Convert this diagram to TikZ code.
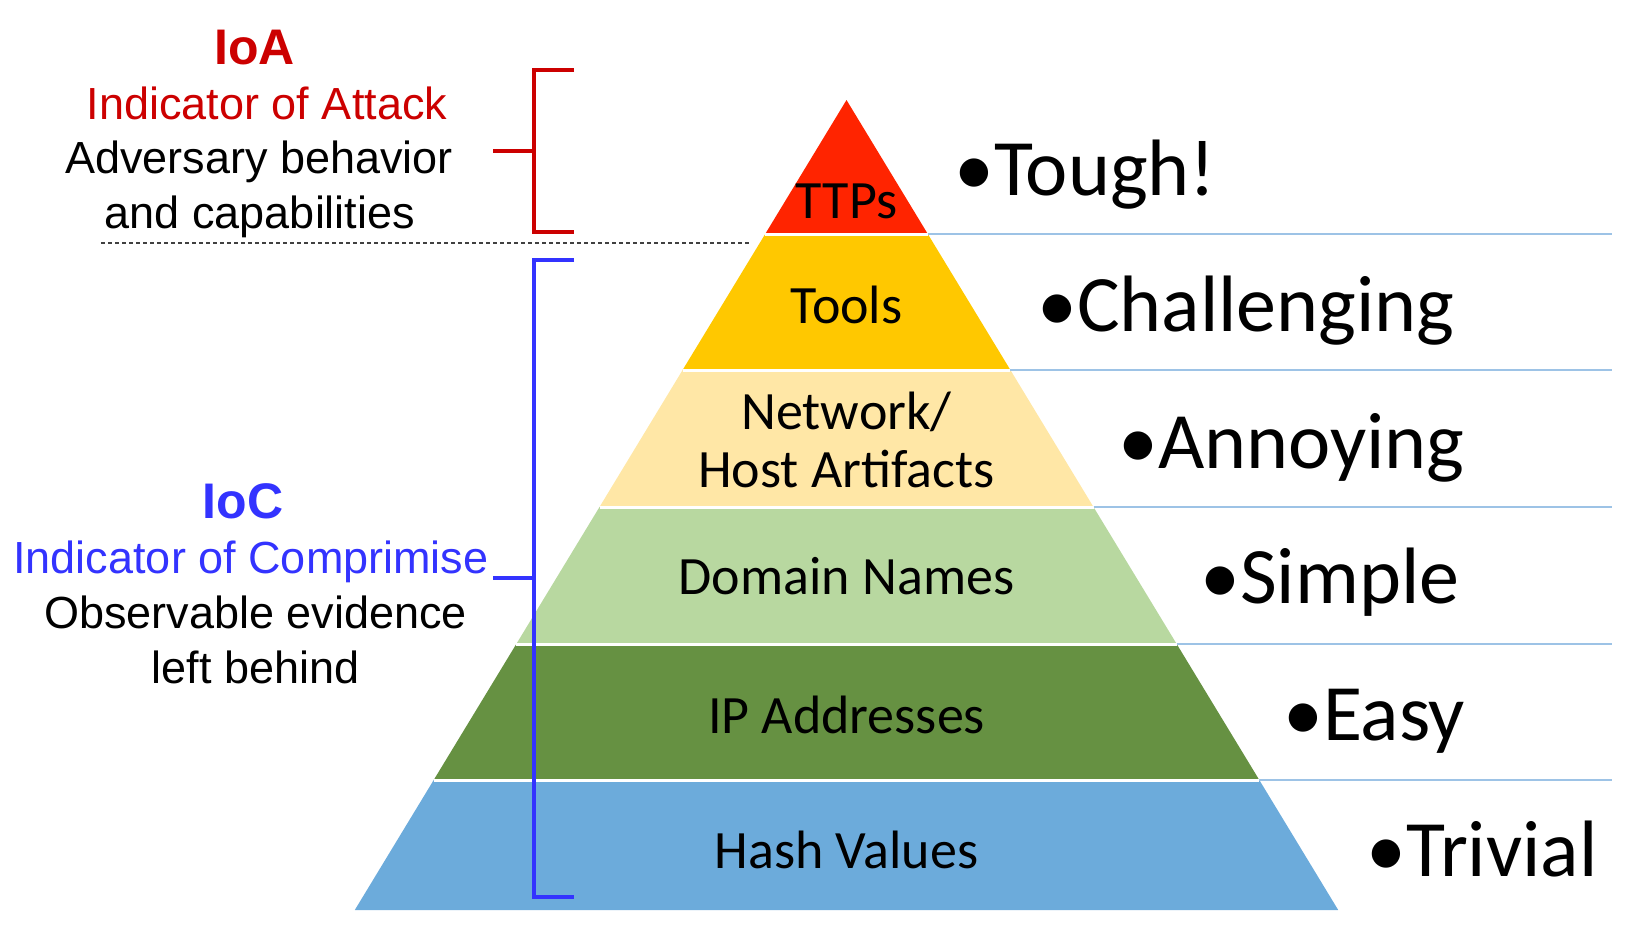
\documentclass[tikz,border=0pt]{standalone}
\usepackage{fontspec}
\setmainfont{Carlito}
\newfontfamily\arialf{Liberation Sans}
\definecolor{cttp}{HTML}{FF2400}
\definecolor{ctools}{HTML}{FFC800}
\definecolor{cnet}{HTML}{FFE7A6}
\definecolor{cdom}{HTML}{B8D8A0}
\definecolor{cip}{HTML}{669142}
\definecolor{chash}{HTML}{6CABDB}
\definecolor{crl}{HTML}{9DC3E6}
\definecolor{ioared}{HTML}{CC0000}
\definecolor{iocblue}{HTML}{3333FF}
\begin{document}
\begin{tikzpicture}[x=1pt,y=-1pt,
  lvl/.style={anchor=base, inner sep=0pt, font=\fontsize{54}{60}\selectfont},
  rlab/.style={anchor=base west, inner sep=0pt, font=\fontsize{80}{90}\selectfont},
  ltxt/.style={anchor=base, inner sep=0pt, font=\arialf\fontsize{45}{54}\selectfont},
  lhead/.style={anchor=base, inner sep=0pt, font=\arialf\bfseries\fontsize{50}{60}\selectfont},
  sepline/.style={draw=white, line width=3pt},
  rline/.style={draw=crl, line width=2.5pt},
  brk/.style={line width=3.2pt}]
\useasboundingbox (0,0) rectangle (1639,940);
% boundary coordinates
\coordinate (apex) at (846.5,100);
\coordinate (l1) at (765.2,234);  \coordinate (r1) at (927.8,234);
\coordinate (l2) at (682.6,370);  \coordinate (r2) at (1010.4,370);
\coordinate (l3) at (599.5,507);  \coordinate (r3) at (1093.5,507);
\coordinate (l4) at (516.3,644);  \coordinate (r4) at (1176.7,644);
\coordinate (l5) at (433.7,780);  \coordinate (r5) at (1259.3,780);
\coordinate (l6) at (354.8,910);  \coordinate (r6) at (1338.2,910);
% layers
\fill[cttp] (apex) -- (r1) -- (l1) -- cycle;
\fill[ctools] (l1) -- (r1) -- (r2) -- (l2) -- cycle;
\fill[cnet] (l2) -- (r2) -- (r3) -- (l3) -- cycle;
\fill[cdom] (l3) -- (r3) -- (r4) -- (l4) -- cycle;
\fill[cip] (l4) -- (r4) -- (r5) -- (l5) -- cycle;
\fill[chash] (l5) -- (r5) -- (r6) -- (l6) -- cycle;
\foreach \i in {1,...,5} {\draw[sepline] (l\i) -- (r\i);}
% right lines
\foreach \i in {1,...,5} {\coordinate (e\i) at (1612,0 |- r\i); \draw[rline] (r\i) -- (e\i);}
% level labels
\node[lvl] (ttps) at (846.5,218) {TTPs};
\node[lvl] (tools) at (846.5,323) {Tools};
\node[lvl] (net1) at (846.5,429) {Network/};
\node[lvl] (net2) at (846.5,487) {Host Artifacts};
\node[lvl] (dom) at (846.5,594) {Domain Names};
\node[lvl] (ip) at (846.5,733) {IP Addresses};
\node[lvl] (hash) at (846.5,868) {Hash Values};
% difficulty labels
\node[rlab] (tough) at (954,195) {•Tough!};
\node[rlab] (chal) at (1037,331) {•Challenging};
\node[rlab] (ann) at (1118,468) {•Annoying};
\node[rlab] (simp) at (1200,603) {•Simple};
\node[rlab] (easy) at (1283,740) {•Easy};
\node[rlab] (triv) at (1366,876) {•Trivial};
% IoA text
\node[lhead, text=ioared] (ioa) at (254.5,64) {IoA};
\node[ltxt, text=ioared] (ioa1) at (267,119) {Indicator of Attack};
\node[ltxt] (ioa2) at (259,173) {Adversary behavior};
\node[ltxt] (ioa3) at (260,228) {and capabilities};
% IoC text
\node[lhead, text=iocblue] (ioc) at (243,518) {IoC};
\node[ltxt, text=iocblue] (ioc1) at (251,573) {Indicator of Comprimise};
\node[ltxt] (ioc2) at (255.5,628) {Observable evidence};
\node[ltxt] (ioc3) at (255.5,683) {left behind};
% separator dashed line
\coordinate (d1) at (101,243); \coordinate (d2) at (750,243);
\draw[dash pattern=on 4pt off 3pt, line width=1.6pt, black!75] (d1) -- (d2);
% red bracket
\coordinate (rb1) at (574,70); \coordinate (rb2) at (534,70);
\coordinate (rb3) at (534,232); \coordinate (rb4) at (574,232);
\coordinate (rbm) at (534,151); \coordinate (rbt) at (493,151);
\draw[brk, draw=ioared] (rb1) -- (rb2) -- (rb3) -- (rb4);
\draw[brk, draw=ioared] (rbt) -- (rbm);
% blue bracket
\coordinate (bb1) at (574,260); \coordinate (bb2) at (534,260);
\coordinate (bb3) at (534,897); \coordinate (bb4) at (574,897);
\coordinate (bbm) at (534,578); \coordinate (bbt) at (493,578);
\draw[brk, line width=4pt, draw=iocblue] (bb1) -- (bb2) -- (bb3) -- (bb4);
\draw[brk, line width=4pt, draw=iocblue] (bbt) -- (bbm);
\end{tikzpicture}
\end{document}
